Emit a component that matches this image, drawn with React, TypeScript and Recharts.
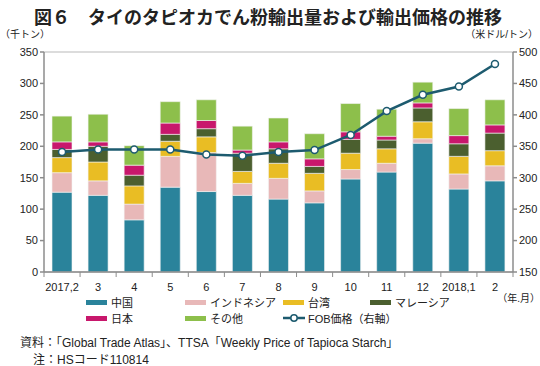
import React from 'react';
import { ComposedChart, Bar, Line, XAxis, YAxis, CartesianGrid } from 'recharts';

// months (year,month)
const months = ['2017,2', '3', '4', '5', '6', '7', '8', '9', '10', '11', '12', '2018,1', '2'];

// export volume by destination (thousand tons)
const china = [127, 122, 83, 135, 128, 122, 116, 110, 148, 159, 205, 132, 145];
const indonesia = [31, 23, 25, 49, 62, 19, 33, 19, 15, 14, 7, 24, 24];
const taiwan = [24, 30, 29, 24, 25, 19, 24, 28, 26, 23, 27, 28, 24];
const malaysia = [13, 25, 17, 11, 13, 29, 23, 11, 22, 14, 22, 20, 28];
const japan = [12, 7, 16, 18, 13, 5, 11, 12, 12, 6, 8, 13, 13];
const others = [41, 44, 31, 34, 33, 38, 38, 40, 45, 43, 33, 43, 40];

// FOB price (USD/ton), right axis
const fobPrice = [341, 345, 345, 345, 337, 335, 341, 344, 368, 406, 432, 445, 481];

const leftTicks = [0, 50, 100, 150, 200, 250, 300, 350];
const rightTicks = [150, 200, 250, 300, 350, 400, 450, 500];

const series = [
  { key: 'china', name: '中国', color: '#2a839b', values: china },
  { key: 'indonesia', name: 'インドネシア', color: '#e8b8b8', values: indonesia },
  { key: 'taiwan', name: '台湾', color: '#e9bd24', values: taiwan },
  { key: 'malaysia', name: 'マレーシア', color: '#4b5f2f', values: malaysia },
  { key: 'japan', name: '日本', color: '#c8176c', values: japan },
  { key: 'others', name: 'その他', color: '#8dbf4b', values: others },
];

const data = months.map((m, i) => {
  const row: Record<string, string | number> = { month: m, fob: fobPrice[i] };
  series.forEach((s) => {
    row[s.key] = s.values[i];
  });
  return row;
});

const FONT = '"Liberation Sans", "Noto Sans CJK JP", sans-serif';
const LINE_COLOR = '#1d5b6f';
const AXIS_COLOR = '#8c8c8c';

const W = 540;
const H = 366;
const PLOT_LEFT = 44;
const PLOT_RIGHT = 513;
const STEP = (PLOT_RIGHT - PLOT_LEFT) / months.length;

const MonthTick = (props: any) => {
  const { x, y, payload, index } = props;
  const last = index === months.length - 1;
  return (
    <g>
      <line x1={x - STEP / 2} x2={x - STEP / 2} y1={y - 8} y2={y - 3} stroke={AXIS_COLOR} />
      {last && <line x1={x + STEP / 2} x2={x + STEP / 2} y1={y - 8} y2={y - 3} stroke={AXIS_COLOR} />}
      <text x={x} y={y + 11} textAnchor="middle" fontSize={11} fill="#222" fontFamily={FONT}>
        {payload.value}
      </text>
    </g>
  );
};

const legendRows = [
  [series[0], series[1], series[2], series[3]],
  [series[4], series[5], null],
];
const legendCols = [86, 185, 283, 370];

const App: React.FC = () => {
  return (
    <div style={{ position: 'absolute', left: 0, top: 0, width: W, height: H, background: '#fff', fontFamily: FONT }}>
      <div style={{ position: 'absolute', left: 34, top: 3, fontSize: 18, fontWeight: 'bold', color: '#222', whiteSpace: 'nowrap' }}>
        図６　タイのタピオカでん粉輸出量および輸出価格の推移
      </div>
      <div style={{ position: 'absolute', left: 0, top: 26, fontSize: 10, color: '#222' }}>（千トン）</div>
      <div style={{ position: 'absolute', right: 2, top: 26, fontSize: 10, color: '#222' }}>（米ドル/トン）</div>
      <div style={{ position: 'absolute', right: 0, top: 290, fontSize: 10, color: '#222' }}>（年.月）</div>

      <ComposedChart
        width={W}
        height={H}
        data={data}
        margin={{ top: 52, right: 0, bottom: 64, left: 0 }}
        barSize={20}
      >
        <CartesianGrid vertical={false} stroke="#b9b9b9" strokeWidth={1.2} />
        <XAxis
          dataKey="month"
          height={30}
          stroke={AXIS_COLOR}
          strokeWidth={1.5}
          tickLine={false}
          tick={<MonthTick />}
          interval={0}
        />
        <YAxis
          yAxisId="left"
          width={44}
          domain={[0, 350]}
          ticks={leftTicks}
          stroke={AXIS_COLOR}
          strokeWidth={1.5}
          tickSize={4}
          tick={{ fontSize: 11, fill: '#222', fontFamily: FONT }}
        />
        <YAxis
          yAxisId="right"
          orientation="right"
          width={27}
          domain={[150, 500]}
          ticks={rightTicks}
          stroke={AXIS_COLOR}
          strokeWidth={1.5}
          tickSize={4}
          tick={{ fontSize: 11, fill: '#222', fontFamily: FONT }}
        />
        {series.map((s) => (
          <Bar
            key={s.key}
            yAxisId="left"
            dataKey={s.key}
            name={s.name}
            stackId="a"
            fill={s.color}
            stroke="#f4f4f4"
            strokeWidth={0.6}
            isAnimationActive={false}
          />
        ))}
        <Line
          yAxisId="right"
          dataKey="fob"
          name="FOB価格（右軸）"
          stroke={LINE_COLOR}
          strokeWidth={2.5}
          dot={{ r: 3.5, fill: '#fff', stroke: LINE_COLOR, strokeWidth: 1.5 }}
          isAnimationActive={false}
        />
      </ComposedChart>

      {legendRows.map((row, ri) =>
        row.map((s, ci) => (
          <div
            key={`lg-${ri}-${ci}`}
            style={{ position: 'absolute', left: legendCols[ci], top: 295 + ri * 16, height: 14, display: 'flex', alignItems: 'center', fontSize: 11, color: '#222', whiteSpace: 'nowrap' }}
          >
            {s ? (
              <span style={{ display: 'inline-block', width: 21, height: 5, background: s.color, marginRight: 4 }} />
            ) : (
              <svg width={22} height={10} style={{ marginRight: 3 }}>
                <line x1={0} x2={22} y1={5} y2={5} stroke={LINE_COLOR} strokeWidth={2.5} />
                <circle cx={11} cy={5} r={3.2} fill="#fff" stroke={LINE_COLOR} strokeWidth={1.5} />
              </svg>
            )}
            {s ? s.name : 'FOB価格（右軸）'}
          </div>
        ))
      )}

      <div style={{ position: 'absolute', left: 20, top: 333, fontSize: 12, color: '#222', whiteSpace: 'nowrap' }}>
        資料：「Global Trade Atlas」、TTSA「Weekly Price of Tapioca Starch」
      </div>
      <div style={{ position: 'absolute', left: 33, top: 350, fontSize: 12, color: '#222', whiteSpace: 'nowrap' }}>
        注：HSコード110814
      </div>
    </div>
  );
};

export default App;
